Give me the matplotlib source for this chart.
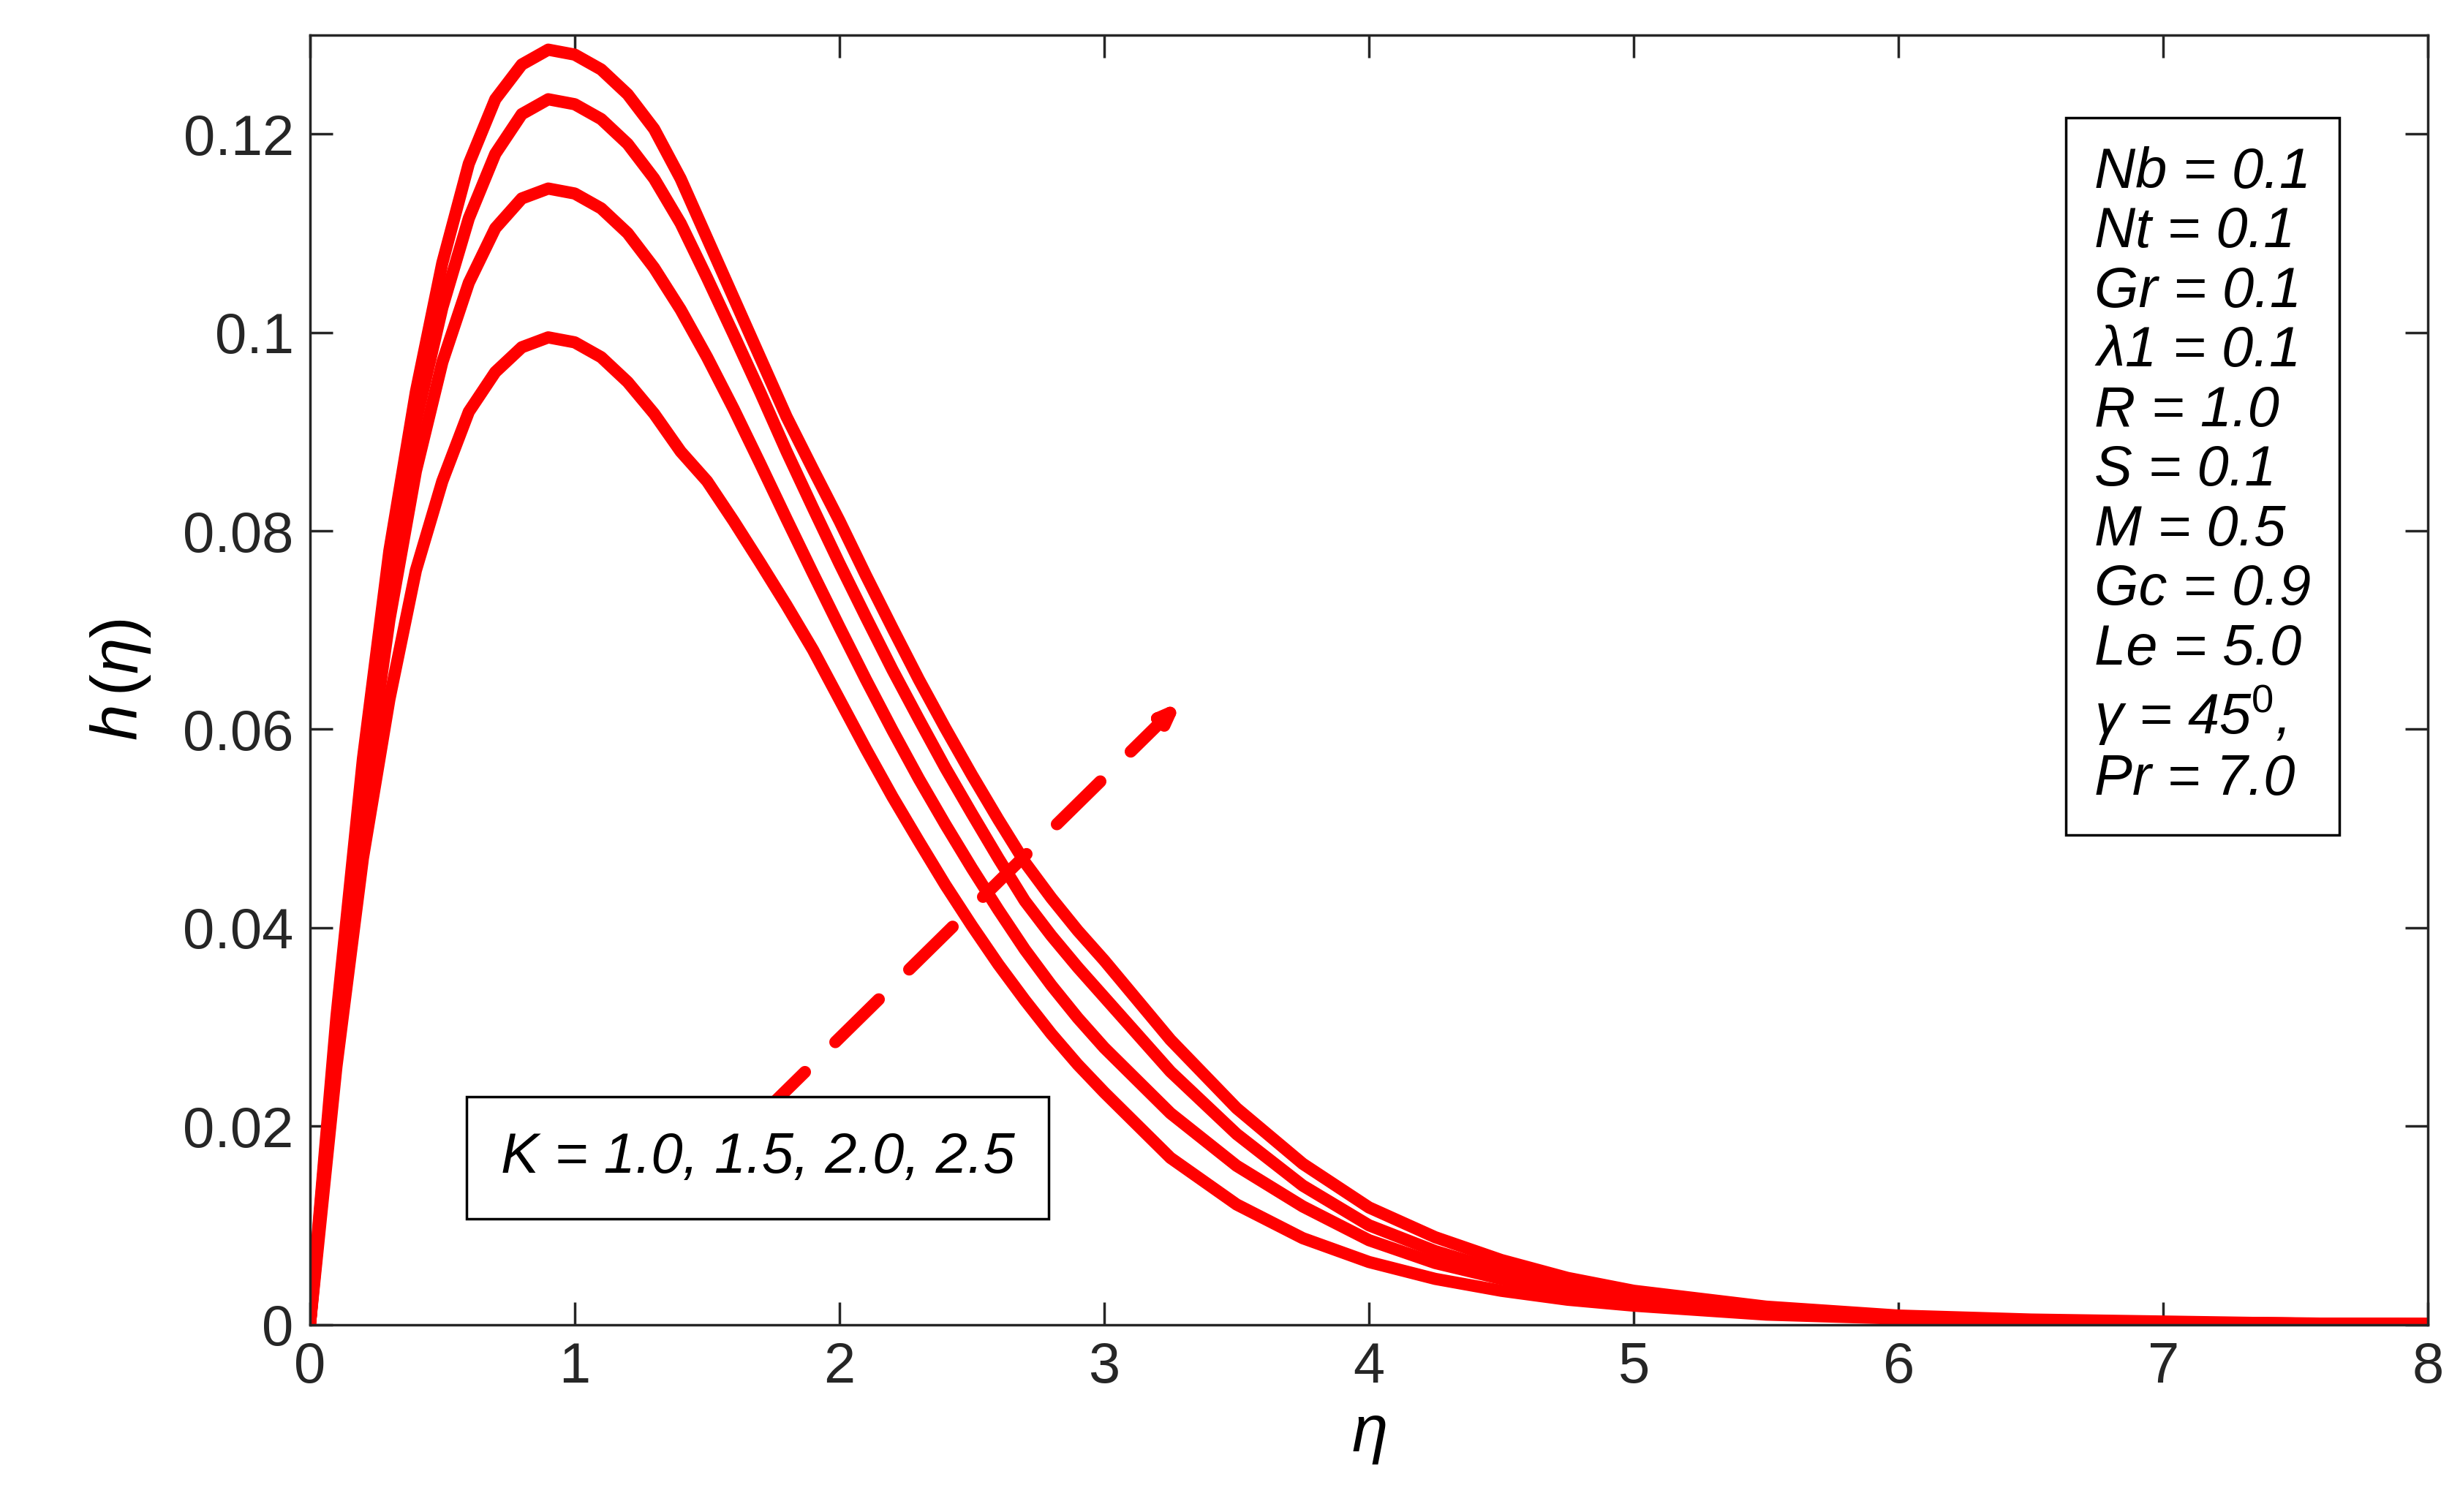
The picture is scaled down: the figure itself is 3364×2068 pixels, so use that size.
import matplotlib.pyplot as plt

eta = [0, 0.1, 0.2, 0.3, 0.4, 0.5, 0.6, 0.7, 0.8, 0.9,
       1.0, 1.1, 1.2, 1.3, 1.4, 1.5, 1.6, 1.7, 1.8, 1.9,
       2.0, 2.1, 2.2, 2.3, 2.4, 2.5, 2.6, 2.7, 2.8, 2.9, 3.0,
       3.25, 3.5, 3.75, 4.0, 4.25, 4.5, 4.75, 5.0,
       5.5, 6.0, 6.5, 7.0, 7.5, 8.0]
h_k10 = [0, 0.026, 0.047, 0.063, 0.076, 0.085, 0.092, 0.096, 0.0985, 0.0995,
         0.099, 0.0975, 0.095, 0.0918, 0.088, 0.085, 0.081, 0.0768, 0.0725, 0.068,
         0.063, 0.058, 0.0532, 0.0487, 0.0443, 0.0402, 0.0363, 0.0327, 0.0293, 0.0262, 0.0234,
         0.0168, 0.0121, 0.0087, 0.0063, 0.0046, 0.0034, 0.0025, 0.0019,
         0.0010, 0.0006, 0.0003, 0.0002, 0.0001, 0.00005]
h_k15 = [0, 0.028, 0.052, 0.071, 0.086, 0.097, 0.105, 0.1105, 0.1135, 0.1145,
         0.114, 0.1125, 0.11, 0.1065, 0.1023, 0.0975, 0.0923, 0.0868, 0.0812, 0.0757,
         0.0703, 0.065, 0.0599, 0.055, 0.0504, 0.046, 0.0418, 0.0378, 0.0342, 0.0309, 0.0279,
         0.0213, 0.016, 0.0119, 0.0085, 0.0062, 0.0046, 0.0034, 0.0025,
         0.0013, 0.0007, 0.0004, 0.0002, 0.0001, 0.00005]
h_k20 = [0, 0.030, 0.055, 0.0755, 0.091, 0.1025, 0.1115, 0.118, 0.122, 0.1235,
         0.123, 0.1215, 0.119, 0.1155, 0.111, 0.1055, 0.0998, 0.094, 0.088, 0.0823,
         0.0767, 0.0713, 0.066, 0.061, 0.0561, 0.0515, 0.047, 0.0427, 0.0392, 0.036, 0.033,
         0.0255, 0.0192, 0.014, 0.01, 0.0074, 0.0054, 0.0039, 0.0029,
         0.0015, 0.0008, 0.0004, 0.0002, 0.0001, 0.00005]
h_k25 = [0, 0.031, 0.057, 0.078, 0.094, 0.107, 0.117, 0.1235, 0.127, 0.1285,
         0.128, 0.1265, 0.124, 0.1205, 0.1155, 0.1095, 0.1035, 0.0975, 0.0915, 0.0862,
         0.081, 0.0755, 0.0702, 0.065, 0.0601, 0.0554, 0.0509, 0.0466, 0.043, 0.0397, 0.0367,
         0.0287, 0.0218, 0.0162, 0.0118, 0.0088, 0.0065, 0.0047, 0.0034,
         0.0018, 0.0009, 0.0005, 0.0003, 0.0001, 0.00005]

params = ['Nb = 0.1', 'Nt = 0.1', 'Gr = 0.1', r'$\lambda$1 = 0.1', 'R = 1.0', 'S = 0.1',
          'M = 0.5', 'Gc = 0.9', 'Le = 5.0', r'$\gamma$ = 45$^0$,', 'Pr = 7.0']

plt.rcParams['font.family'] = ['Liberation Sans', 'DejaVu Sans']
plt.rcParams['mathtext.fontset'] = 'custom'
plt.rcParams['mathtext.it'] = 'Liberation Sans:italic'
plt.rcParams['mathtext.rm'] = 'Liberation Sans'
plt.rcParams['mathtext.default'] = 'it'

fig = plt.figure(figsize=(33.64, 20.68), dpi=100)
ax = fig.add_axes([0.126, 0.124, 0.861, 0.853])

for h in [h_k10, h_k15, h_k20, h_k25]:
    ax.plot(eta, h, color='red', lw=12, solid_joinstyle='round')

ax.set_xlim(0, 8)
ax.set_ylim(0, 0.13)
ax.set_xticks(range(9))
ax.set_yticks([0, 0.02, 0.04, 0.06, 0.08, 0.1, 0.12])
ax.set_yticklabels(['0', '0.02', '0.04', '0.06', '0.08', '0.1', '0.12'])
ax.tick_params(direction='in', length=22, width=2.5, labelsize=56, top=True, right=True,
               pad=16, colors='#262626')
for s in ax.spines.values():
    s.set_linewidth(2.5)
    s.set_color('#262626')

ax.set_xlabel(r'$\eta$', fontsize=64, labelpad=10)
ax.set_ylabel(r'$h\,(\eta)$', fontsize=64, labelpad=30)

ax.annotate('', xy=(3.3, 0.063), xytext=(1.7, 0.021),
            arrowprops=dict(arrowstyle='-|>,head_length=1.3,head_width=0.5', color='red',
                            lw=12, linestyle=(0, (5, 3.5))))

ax.text(0.72, 0.0168, 'K = 1.0, 1.5, 2.0, 2.5', fontsize=56, style='italic', va='center',
        bbox=dict(boxstyle='square,pad=0.6', fc='white', ec='black', lw=2.5))

ax.text(6.74, 0.0855, '\n'.join(params), fontsize=56, style='italic', va='center',
        linespacing=1.15,
        bbox=dict(boxstyle='square,pad=0.5', fc='white', ec='black', lw=2.5))

fig.savefig('out.png', dpi=100)
